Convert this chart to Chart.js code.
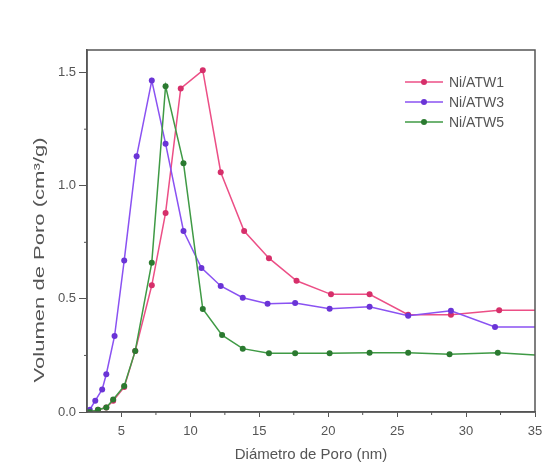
<!DOCTYPE html>
<html>
<head>
<meta charset="utf-8">
<script src="https://cdn.jsdelivr.net/npm/chart.js@4.4.1/dist/chart.umd.min.js"></script>
<style>
  html, body { margin: 0; padding: 0; background: #fff; }
  #wrap { width: 546px; height: 472px; }
</style>
</head>
<body>
<div id="wrap"><canvas id="poreChart"></canvas></div>
<script>
// pore size distribution
const seriesNames = ['Ni/ATW1', 'Ni/ATW3', 'Ni/ATW5'];

const atw1X = [2.7, 3.3, 3.9, 4.4, 5.2, 6.0, 7.2, 8.2, 9.3, 10.9, 12.2, 13.9, 15.7, 17.7, 20.2, 23.0, 25.8, 28.9, 32.4, 35.5];
const atw1Y = [0.0, 0.01, 0.02, 0.05, 0.11, 0.27, 0.56, 0.88, 1.43, 1.51, 1.06, 0.80, 0.68, 0.58, 0.52, 0.52, 0.43, 0.43, 0.45, 0.45];

const atw3X = [2.7, 3.1, 3.6, 3.9, 4.5, 5.2, 6.1, 7.2, 8.2, 9.5, 10.8, 12.2, 13.8, 15.6, 17.6, 20.1, 23.0, 25.8, 28.9, 32.1, 35.5];
const atw3Y = [0.01, 0.05, 0.10, 0.167, 0.336, 0.67, 1.13, 1.465, 1.186, 0.80, 0.637, 0.557, 0.505, 0.478, 0.482, 0.456, 0.465, 0.425, 0.447, 0.376, 0.376];

const atw5X = [2.7, 3.3, 3.9, 4.4, 5.2, 6.0, 7.2, 8.2, 9.5, 10.9, 12.3, 13.8, 15.7, 17.6, 20.1, 23.0, 25.8, 28.8, 32.3, 35.5];
const atw5Y = [0.0, 0.01, 0.02, 0.055, 0.115, 0.27, 0.66, 1.44, 1.10, 0.455, 0.34, 0.28, 0.26, 0.26, 0.26, 0.262, 0.262, 0.255, 0.262, 0.25];

const xMajorTicks = [5, 10, 15, 20, 25, 30, 35];
const xMinorTicks = [7.5, 12.5, 17.5, 22.5, 27.5, 32.5];
const yMajorTicks = [0, 0.5, 1.0, 1.5];
const yMinorTicks = [0.25, 0.75, 1.25];

const xTitle = 'Diámetro de Poro (nm)';
const yTitle = 'Volumen de Poro (cm³/g)';

const lineColors = ['#ec4f86', '#8a52f2', '#3f9a45'];
const markColors = ['#d62f6a', '#6a34d6', '#2b7a30'];
const drawOrder = [3, 2, 1]; // green ends up on top, like the original
const axisColor = '#555';
const textColor = '#555';

function toPoints(xs, ys) {
    return xs.map((x, i) => ({ x: x, y: ys[i] }));
}

const allSeries = [toPoints(atw1X, atw1Y), toPoints(atw3X, atw3Y), toPoints(atw5X, atw5Y)];

// frame, minor ticks, titles and the legend box inside the plot
const decorPlugin = {
    id: 'decor',
    afterDraw(chart) {
        const ctx = chart.ctx;
        const a = chart.chartArea;
        const xs = chart.scales.x;
        const ys = chart.scales.y;
        ctx.save();

        ctx.strokeStyle = axisColor;
        ctx.lineWidth = 1.5;
        ctx.strokeRect(a.left, a.top, a.right - a.left, a.bottom - a.top);

        ctx.lineWidth = 1;
        ctx.beginPath();
        xMinorTicks.forEach(v => {
            const px = xs.getPixelForValue(v);
            ctx.moveTo(px, a.bottom);
            ctx.lineTo(px, a.bottom + 3);
        });
        yMinorTicks.forEach(v => {
            const py = ys.getPixelForValue(v);
            ctx.moveTo(a.left, py);
            ctx.lineTo(a.left - 3, py);
        });
        ctx.stroke();

        // axis titles
        ctx.fillStyle = textColor;
        ctx.textAlign = 'center';
        ctx.textBaseline = 'middle';
        ctx.font = '15px "Liberation Sans", Arial, sans-serif';
        ctx.fillText(xTitle, (a.left + a.right) / 2, 455);

        ctx.save();
        ctx.translate(40, 260);
        ctx.rotate(-Math.PI / 2);
        const w = ctx.measureText(yTitle).width;
        ctx.scale(245 / w, 1);
        ctx.fillText(yTitle, 0, 0);
        ctx.restore();

        // legend
        ctx.font = '14px "Liberation Sans", Arial, sans-serif';
        ctx.textAlign = 'left';
        chart.data.datasets.forEach((ds, i) => {
            const y = 82 + i * 20;
            ctx.strokeStyle = ds.borderColor;
            ctx.lineWidth = 1.5;
            ctx.beginPath();
            ctx.moveTo(405, y);
            ctx.lineTo(443, y);
            ctx.stroke();
            ctx.fillStyle = ds.pointBackgroundColor;
            ctx.beginPath();
            ctx.arc(424, y, 3, 0, Math.PI * 2);
            ctx.fill();
            ctx.fillStyle = textColor;
            ctx.fillText(ds.label, 449, y + 1);
        });

        ctx.restore();
    }
};

const ctx = document.getElementById('poreChart').getContext('2d');
new Chart(ctx, {
    type: 'line',
    data: {
        datasets: seriesNames.map((name, i) => ({
            label: name,
            data: allSeries[i],
            order: drawOrder[i],
            borderColor: lineColors[i],
            borderWidth: 1.5,
            pointBackgroundColor: markColors[i],
            pointBorderColor: markColors[i],
            pointBorderWidth: 0,
            pointRadius: 3,
            tension: 0,
            fill: false
        }))
    },
    options: {
        responsive: true,
        maintainAspectRatio: false,
        animation: false,
        layout: { padding: { top: 50, right: 11, left: 0, bottom: 0 } },
        plugins: {
            legend: { display: false },
            tooltip: { enabled: false }
        },
        scales: {
            x: {
                type: 'linear',
                min: 2.5,
                max: 35,
                afterFit: s => {
                    s.height = 60;
                    s.paddingLeft = 0;
                    s.paddingRight = 0;
                },
                afterBuildTicks: s => { s.ticks = xMajorTicks.map(v => ({ value: v })); },
                grid: { drawOnChartArea: false, drawTicks: true, tickLength: 5, tickColor: axisColor },
                border: { display: true, color: axisColor, width: 1.5 },
                ticks: {
                    color: textColor,
                    font: { size: 13, family: '"Liberation Sans", Arial, sans-serif' },
                    padding: 7,
                    maxRotation: 0
                }
            },
            y: {
                min: 0,
                max: 1.6,
                afterFit: s => {
                    s.width = 87;
                    s.paddingTop = 0;
                    s.paddingBottom = 0;
                },
                afterBuildTicks: s => { s.ticks = yMajorTicks.map(v => ({ value: v })); },
                grid: { drawOnChartArea: false, drawTicks: true, tickLength: 8, tickColor: axisColor },
                border: { display: true, color: axisColor, width: 1.5 },
                ticks: {
                    color: textColor,
                    font: { size: 13, family: '"Liberation Sans", Arial, sans-serif' },
                    padding: 3,
                    callback: v => v.toFixed(1)
                }
            }
        }
    },
    plugins: [decorPlugin]
});
</script>
</body>
</html>
